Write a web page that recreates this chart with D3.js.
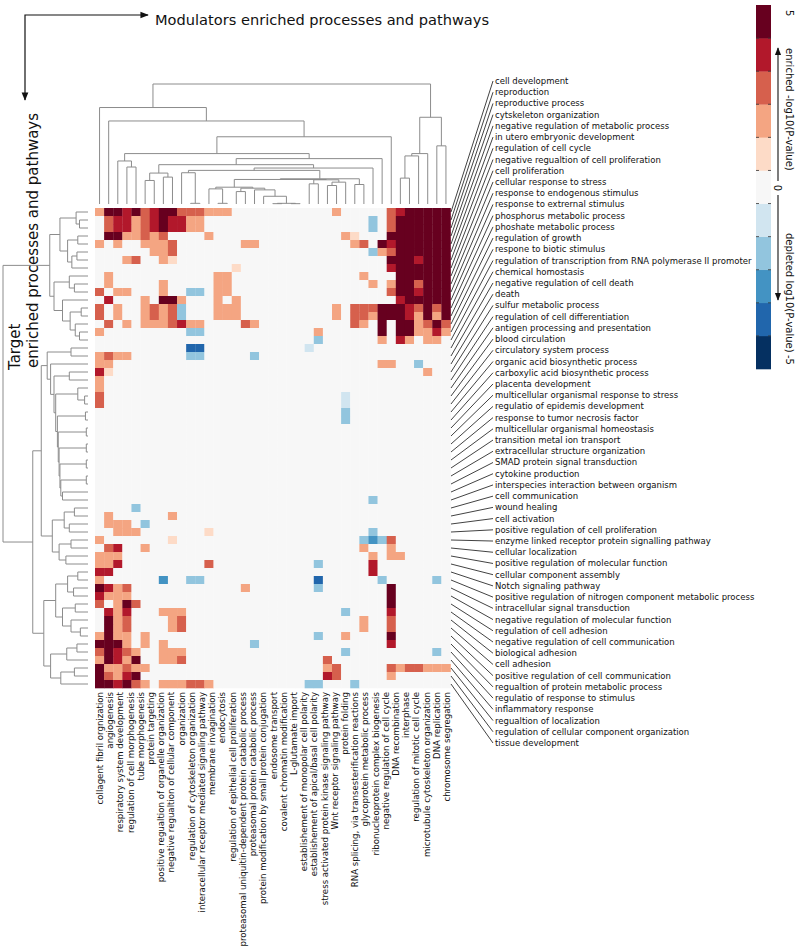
<!DOCTYPE html>
<html>
<head>
<meta charset="utf-8">
<script src="https://cdn.jsdelivr.net/npm/d3@7"></script>
<style>
  body { margin: 0; background: #fff; }
  text { font-family: "DejaVu Sans", sans-serif; fill: #111; }
</style>
</head>
<body>
<svg id="chart" width="795" height="951"></svg>
<script>
// column (modulator) labels, as printed under the map
var colLabels = [
  "collagent fibril orgnization", "angiogenesis", "respiratory system development",
  "regulation of cell morphogenesis", "tube morphogenesis", "protein targeting",
  "positive regualtion of organelle organization", "negative regualtion of cellular component",
  "organization", "regulation of cytoskeleton organization",
  "interacellular receptor mediated signaling pathway", "membrane invagination", "endocytosis",
  "regulation of epithelial cell proliferation",
  "proteasomal uniquitin-dependent protein catabolic process",
  "proteasomal protein catabolic process", "protein modification by small protein conjugation",
  "endosome transport", "covalent chromatin modification", "L-glutamate import",
  "establishement of monopolar cell polarity", "establishement of apical/basal cell polarity",
  "stress activated protein kinase signaling pathway", "Wnt receptor signaling pathway",
  "protein folding", "RNA splicing, via transesterification reactions",
  "glycoprotein metabolic process", "ribonucleoprotein complex biogenesis",
  "negative regulation of cell cycle", "DNA recombination", "interphase",
  "regulation of mitotic cell cycle", "microtubule cytoskeleton organization",
  "DNA replication", "chromosome segregation"
];

// row (target) labels, top to bottom
var rowLabels = [
  "cell development", "reproduction", "reproductive process", "cytskeleton organization",
  "negative regulation of metabolic process", "in utero embryonic development",
  "regulation of cell cycle", "negative regualtion of cell proliferation", "cell proliferation",
  "cellular response to stress", "response to endogenous stimulus", "response to extrernal stimulus",
  "phosphorus metabolic process", "phoshate metabolic process", "regulation of growth",
  "respone to biotic stimulus", "regulation of transcription from RNA polymerase II promoter",
  "chemical homostasis", "negative regulation of cell death", "death", "sulfur metabolic process",
  "regulation of cell differentiation", "antigen processing and presentation", "blood circulation",
  "circulatory system process", "organic acid biosynthetic process",
  "carboxylic acid biosynthetic process", "placenta development",
  "multicellular organismal response to stress", "regulatio of epidemis development",
  "response to tumor necrosis factor", "multicellular organismal homeostasis",
  "transition metal ion transport", "extracellular structure organization",
  "SMAD protein signal transduction", "cytokine production",
  "interspecies interaction between organism", "cell communication", "wound healing",
  "cell activation", "positive regulation of cell proliferation",
  "enzyme linked receptor protein signalling pathway", "cellular localization",
  "positive regulation of molecular function", "cellular component assembly",
  "Notch signaling pathway", "positive regulation of nitrogen component metabolic process",
  "intracellular signal transduction", "negative regulation of molecular function",
  "regulation of cell adhesion", "negative regulation of cell communication",
  "biological adhesion", "cell adhesion", "positive regulation of cell communication",
  "regualtion of protein metabolic process", "regulatio of response to stimulus",
  "inflammatory response", "regualtion of localization",
  "regulation of cellular component organization", "tissue development"
];

// signed -log10(P) per cell, 60 rows x 39 columns (groups of 10 columns)
// '0' = none, '1'..'5' = enriched +1..+5, 'a'..'e' = depleted -1..-5
var cellCodes = [
  "2554534553 3322200000 0000002000 003455555",
  "0344234544 2200000000 0000000000 b03555555",
  "0344234544 2200000000 0000000000 b03555555",
  "0552232300 0020000000 0000000210 005555555",
  "2020022230 0000002200 0000000023 054555555",
  "0000002230 0000000000 0000000000 b23555555",
  "0002300210 0000000000 0000000000 005554555",
  "0000000000 0000010000 0000000000 004555555",
  "0200000000 0002200000 0000000002 000555555",
  "0200000200 0002200000 0000000000 202553555",
  "3022000200 bb02200000 0000000000 003554555",
  "0400020552 0002020000 0000000000 000455555",
  "302002323b 0002220000 0000002033 355543535",
  "302002323b 0002220000 0000002033 255542525",
  "0302022234 2200003200 0000000032 050552353",
  "2000000000 bb00000000 0000200000 050552242",
  "0000000000 0000000000 0000b00000 020420220",
  "0000000000 dd00000000 000a000000 000000000",
  "2322000000 bb00000b00 0000000000 000000000",
  "2200000000 0000000000 0000000000 02200b000",
  "4100000000 0000000000 0000000000 000000200",
  "2000000000 0000000000 0000000000 000000000",
  "2000000000 0000000000 0000000000 000000000",
  "3000000000 0000000000 0000000a00 000000000",
  "3000000000 0000000000 0000000a00 000000000",
  "0000000000 0000000000 0000000b00 000000000",
  "0000000000 0000000000 0000000b00 000000000",
  "0000000000 0000000000 0000000000 000000000",
  "0000000000 0000000000 0000000000 000000000",
  "0000000000 0000000000 0000000000 000000000",
  "0000000000 0000000000 0000000000 000000000",
  "0000000000 0000000000 0000000000 000000000",
  "0000000000 0000000000 0000000000 000000000",
  "0000000000 0000000000 0000000000 000000000",
  "0000000000 0000000000 0000000000 000000000",
  "0000000000 0000000000 0000000000 000000000",
  "0000000000 0000000000 0000000000 b00000000",
  "0000b00000 0000000000 0000000000 000000000",
  "0200000020 0000000000 0000000000 000000000",
  "02220b0000 0000000000 0000000000 000000000",
  "0022200000 0010000000 0000000000 b00000000",
  "2000000010 0000000000 000000000b cb3000000",
  "0340020000 0000000000 0000000002 002000000",
  "2220000000 0000000000 0000000000 202200000",
  "2240000000 0030000000 0000b00000 400000000",
  "4400000000 0000000000 0000000000 400000000",
  "2000000c00 bb00000000 0000d00000 0b00000b0",
  "5423000000 0000002000 0000b00000 005000000",
  "4222000000 0000000000 0000000000 005000000",
  "3025300000 0000000000 0000000000 005000000",
  "0424000222 0000000000 0000000b00 004000000",
  "0523000023 0000000000 0000000002 003000000",
  "0523000023 0000000000 0000000002 003000000",
  "2522020000 0000000000 0000b00200 005000000",
  "5552020200 0000000b00 0000000000 004000000",
  "3543200222 0000000000 0000000b00 0000000b0",
  "2542500223 0000000000 0000030000 000000000",
  "5223220000 0000000000 0000023000 003233222",
  "5324500000 0000000000 0000043000 002000000",
  "5545320222 3320000000 000bb000b0 000000000"
];

// merge heights of the two dendrograms, nested as [height, left, right]; leaves are indices
var colTree = [357,
  [287, 0, [247, 1, [200,
    [150, [128, 2, [110, 3, 4]],
      [135, [117, [92, [70, 5, 6], [80, 7, 8]],
        [107, [100, [93, 9, [2, 10, 11]],
          [75, [73, [50, [45, 12, [2, 13, 14]], [47, [37, 15, 16], [42, 17, [23, 18, [2, [1, 19, 20], [1, 21, 22]]]]]],
                [72, [60, 23, 24], [65, [55, 25, 26], 27]]],
               [58, 28, 29]]],
          30]],
        31]],
    32]]],
  [258, [150, [143, [77, 33, 34], 35], 36], [173, 37, 38]]
];

var rowTree = [100,
  [45,
    [33, [14, 0, [10, 1, 2]], [24, [12, 3, 4], [19, [13, 5, 6], 7]]],
    [40, [22, 8, [16, 9, 10]], [30, 11, [21, [8, 12, 13], [15, 14, [10, 15, 16]]]]]],
  [65,
    [55,
      [48, [20, 17, 18], [44, 19, [40, [22, 20, 21], [38, [12, 22, [4, 23, 24]],
        [36, [3, 25, 26], [35, [2, 27, 28], [34, [2, 29, 30], [33, [2, 31, 32], [32, [2, 33, 34], [30, 35, 36]]]]]]]]]],
      [42, [28, [16, 37, 38], [22, 39, 40]], [34, [20, 41, 42], [26, 43, 44]]]],
    [52,
      [38, [24, [12, 45, 46], [17, 47, 48]], [30, [15, 49, 50], [20, 51, [9, 52, 53]]]],
      [44, [25, [13, 54, 55], 56], [32, [16, 57, 58], 59]]]]
];

var levelColors = ["#053061", "#2166ac", "#4393c3", "#92c5de", "#d1e5f0", "#f7f7f7",
                   "#fddbc7", "#f4a582", "#d6604d", "#b2182b", "#67001f"];

function decode(ch) {
  if (ch >= "a" && ch <= "e") return -(ch.charCodeAt(0) - 96);
  return +ch || 0;
}

var nCols = 39;
var cells = [];
cellCodes.forEach(function(s, r) {
  s = s.replace(/ /g, "");
  for (var c = 0; c < nCols; c++) cells.push({ r: r, c: c, v: decode(s[c] || "0") });
});

var svg = d3.select("#chart");

var x = d3.scaleBand().domain(d3.range(nCols)).range([95, 450.5]);
var y = d3.scaleBand().domain(d3.range(rowLabels.length)).range([208, 688]);
var color = d3.scaleQuantize().domain([-5.5, 5.5]).range(levelColors);

// heatmap cells
svg.append("g").selectAll("rect")
  .data(cells)
  .enter().append("rect")
  .attr("x", function(d) { return x(d.c); })
  .attr("y", function(d) { return y(d.r); })
  .attr("width", x.bandwidth() + 0.3)
  .attr("height", y.bandwidth() + 0.3)
  .style("fill", function(d) { return color(d.v); });

// dendrogram drawing: returns position of a node, draws its bracket
function drawTree(g, node, leafPos, hPos, vertical) {
  if (typeof node === "number") return { p: leafPos(node), h: hPos(0) };
  var a = drawTree(g, node[1], leafPos, hPos, vertical);
  var b = drawTree(g, node[2], leafPos, hPos, vertical);
  var h = hPos(node[0]);
  var d = vertical
    ? "M" + a.p + "," + a.h + "V" + h + "H" + b.p + "V" + b.h
    : "M" + a.h + "," + a.p + "H" + h + "V" + b.p + "H" + b.h;
  g.append("path").attr("d", d);
  return { p: (a.p + b.p) / 2, h: h };
}

var dendro = svg.append("g")
  .style("fill", "none").style("stroke", "#8c8c8c").style("stroke-width", 1);

var colH = d3.scaleLinear().domain([0, colTree[0]]).range([204, 84]);
drawTree(dendro, colTree, function(i) { return x(i) + x.bandwidth() / 2; }, colH, true);

var rowH = d3.scaleLinear().domain([0, rowTree[0]]).range([88, 3]);
drawTree(dendro, rowTree, function(i) { return y(i) + y.bandwidth() / 2; }, rowH, false);

// column labels (spread evenly under the map)
var xl = d3.scalePoint().domain(d3.range(colLabels.length)).range([100, 447]);
svg.append("g").selectAll("text")
  .data(colLabels)
  .enter().append("text")
  .attr("transform", function(d, i) { return "translate(" + (xl(i) + 3) + ",692) rotate(-90)"; })
  .attr("text-anchor", "end")
  .style("font-size", "8.6px")
  .text(function(d) { return d; });

// row labels with leader lines
var yl = d3.scalePoint().domain(d3.range(rowLabels.length)).range([81, 743]);
var rl = svg.append("g");
rl.selectAll("line")
  .data(rowLabels)
  .enter().append("line")
  .attr("x1", 451).attr("y1", function(d, i) { return y(i) + y.bandwidth() / 2; })
  .attr("x2", 493).attr("y2", function(d, i) { return yl(i); })
  .style("stroke", "#111").style("stroke-width", 0.8);
rl.selectAll("text")
  .data(rowLabels)
  .enter().append("text")
  .attr("x", 495).attr("y", function(d, i) { return yl(i) + 3; })
  .style("font-size", "8.5px")
  .text(function(d) { return d; });

// axis titles with arrows
var defs = svg.append("defs");
defs.append("marker").attr("id", "ah").attr("viewBox", "0 0 10 10")
  .attr("refX", 9).attr("refY", 5).attr("markerWidth", 7).attr("markerHeight", 7)
  .attr("orient", "auto-start-reverse")
  .append("path").attr("d", "M0,1L10,5L0,9z").style("fill", "#111");

svg.append("path").attr("d", "M148,15H25V100")
  .style("fill", "none").style("stroke", "#111").style("stroke-width", 1.2)
  .attr("marker-start", "url(#ah)").attr("marker-end", "url(#ah)");

svg.append("text").attr("x", 155).attr("y", 25)
  .style("font-size", "14.6px").text("Modulators enriched processes and pathways");

svg.append("text").attr("transform", "translate(20,370) rotate(-90)")
  .style("font-size", "15px").text("Target");
svg.append("text").attr("transform", "translate(38,368) rotate(-90)")
  .style("font-size", "15px").text("enriched processes and pathways");

// colour bar
var cb = d3.scaleLinear().domain([-5.5, 5.5]).range([369, 5]);
var steps = d3.range(-5, 6);
var bar = svg.append("g");
bar.selectAll("rect")
  .data(steps)
  .enter().append("rect")
  .attr("x", 756).attr("width", 15)
  .attr("y", function(d) { return cb(d + 0.5); })
  .attr("height", function(d) { return cb(d - 0.5) - cb(d + 0.5) + 0.3; })
  .style("fill", function(d) { return color(d); });
[756, 768].forEach(function(x0) {
  bar.append("g").selectAll("line")
    .data(d3.range(-4.5, 5, 1))
    .enter().append("line")
    .attr("x1", x0).attr("x2", x0 + 3)
    .attr("y1", function(d) { return cb(d); }).attr("y2", function(d) { return cb(d); })
    .style("stroke", "#333").style("stroke-width", 0.8);
});

svg.append("path").attr("d", "M778,181V48")
  .style("stroke", "#111").style("stroke-width", 1.1).attr("marker-end", "url(#ah)");
svg.append("path").attr("d", "M778,195V300")
  .style("stroke", "#111").style("stroke-width", 1.1).attr("marker-end", "url(#ah)");

svg.append("text").attr("transform", "translate(774,188) rotate(90)")
  .attr("text-anchor", "middle").style("font-size", "10px").text("0");
svg.append("text").attr("transform", "translate(786,10) rotate(90)")
  .style("font-size", "10px").text("5");
svg.append("text").attr("transform", "translate(786,355) rotate(90)")
  .style("font-size", "10px").text("-5");
svg.append("text").attr("transform", "translate(786,48) rotate(90)")
  .style("font-size", "10px").text("enriched -log10(P-value)");
svg.append("text").attr("transform", "translate(786,233) rotate(90)")
  .style("font-size", "10px").text("depleted log10(P-value)");
</script>
</body>
</html>
